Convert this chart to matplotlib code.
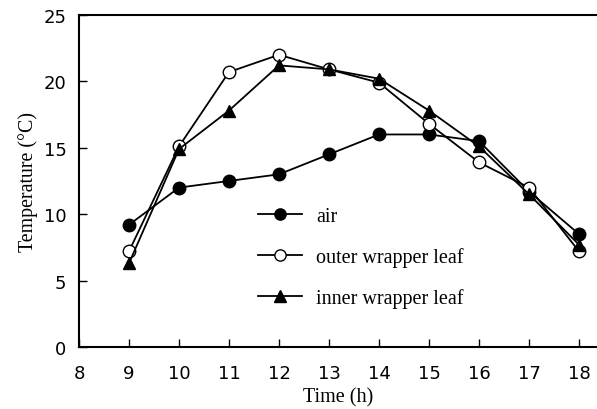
import matplotlib
matplotlib.use('Agg')
import matplotlib.pyplot as plt

# Data
hours = [9, 10, 11, 12, 13, 14, 15, 16, 17, 18]
air = [9.2, 12.0, 12.5, 13.0, 14.5, 16.0, 16.0, 15.5, 11.7, 8.5]
outer_leaf = [7.2, 15.1, 20.7, 22.0, 20.9, 19.9, 16.8, 13.9, 12.0, 7.2]
inner_leaf = [6.3, 14.9, 17.8, 21.2, 20.9, 20.2, 17.8, 15.1, 11.5, 7.7]

x_ticks = [8, 9, 10, 11, 12, 13, 14, 15, 16, 17, 18]
y_ticks = [0, 5, 10, 15, 20, 25]

serif = 'Liberation Serif'
sans = 'DejaVu Sans'

fig = plt.figure(figsize=(5.97, 4.10), dpi=100)
ax = fig.add_axes([0.1323, 0.1512, 0.8677, 0.810])

line_kw = dict(color='black', linewidth=1.3, markersize=9)
ax.plot(hours, air, marker='o', markerfacecolor='black', label='air', **line_kw)
ax.plot(hours, outer_leaf, marker='o', markerfacecolor='white',
        label='outer wrapper leaf', **line_kw)
ax.plot(hours, inner_leaf, marker='^', markerfacecolor='black',
        label='inner wrapper leaf', **line_kw)

ax.set_xlim(8, 18.36)
ax.set_ylim(0, 25)
ax.set_xticks(x_ticks)
ax.set_yticks(y_ticks)
ax.tick_params(direction='in', length=6, width=1, labelsize=13)
ax.tick_params(axis='x', pad=12)
ax.tick_params(axis='y', pad=9)
for lbl in ax.get_xticklabels() + ax.get_yticklabels():
    lbl.set_fontfamily(sans)

ax.spines['right'].set_visible(False)
for side in ['left', 'top', 'bottom']:
    ax.spines[side].set_linewidth(1.5)

ax.set_xlabel('Time (h)', fontfamily=serif, fontsize=14.5, labelpad=4)
ax.set_ylabel('Temperature (°C)', fontfamily=serif, fontsize=14.3, labelpad=4)

leg = ax.legend(loc='upper left', bbox_to_anchor=(0.33, 0.445), frameon=False,
                prop={'family': serif, 'size': 14.5}, handlelength=2.2,
                handletextpad=0.7, labelspacing=1.05, borderaxespad=0,
                markerscale=0.9)

plt.savefig('out.png', dpi=100)
plt.close()
